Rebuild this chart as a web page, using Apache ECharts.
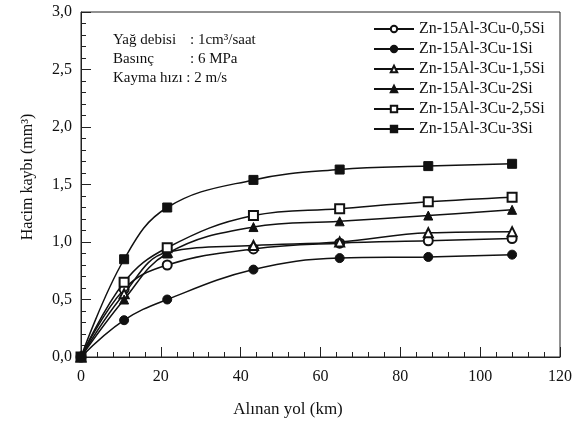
<!DOCTYPE html>
<html>
<head>
<meta charset="utf-8">
<script src="https://cdn.jsdelivr.net/npm/echarts@6/dist/echarts.min.js"></script>
<style>html,body{margin:0;padding:0;background:#fff}#c{width:582px;height:425px}</style>
</head>
<body>
<div id="c"></div>
<script>
var distances = [0, 10.8, 21.6, 43.2, 64.8, 87, 108];
var seriesNames = ['Zn-15Al-3Cu-0,5Si','Zn-15Al-3Cu-1Si','Zn-15Al-3Cu-1,5Si','Zn-15Al-3Cu-2Si','Zn-15Al-3Cu-2,5Si','Zn-15Al-3Cu-3Si'];
var si05 = [0, 0.59, 0.80, 0.94, 0.99, 1.01, 1.03];
var si1  = [0, 0.32, 0.50, 0.76, 0.86, 0.87, 0.89];
var si15 = [0, 0.55, 0.91, 0.97, 1.00, 1.08, 1.09];
var si2  = [0, 0.50, 0.90, 1.13, 1.18, 1.23, 1.28];
var si25 = [0, 0.65, 0.95, 1.23, 1.29, 1.35, 1.39];
var si3  = [0, 0.85, 1.30, 1.54, 1.63, 1.66, 1.68];
var symbols = ['emptyCircle','circle','emptyTriangle','triangle','emptyRect','rect'];
var allValues = [si05, si1, si15, si2, si25, si3];
var annLines = [['Yağ debisi', ': 1cm³/saat'], ['Basınç', ': 6 MPa'], ['Kayma hızı : 2 m/s', '']];

var font = 'Liberation Serif';
var chart = echarts.init(document.getElementById('c'));
var series = allValues.map(function (vals, i) {
  return {
    name: seriesNames[i],
    type: 'line',
    smooth: 0.4,
    data: distances.map(function (d, j) { return [d, vals[j]]; }),
    symbol: symbols[i],
    symbolSize: 9,
    lineStyle: { color: '#111', width: 1.5 },
    itemStyle: { color: '#111', borderColor: '#111', borderWidth: 1 },
    z: 2 + i
  };
});
var graphics = [];
var annY = [40, 59, 78];
for (var k = 0; k < 3; k++) {
  graphics.push({ type: 'text', x: 113, y: annY[k], style: { text: annLines[k][0], font: '15px "' + font + '"', fill: '#111', verticalAlign: 'middle' } });
  if (annLines[k][1]) {
    graphics.push({ type: 'text', x: 190, y: annY[k], style: { text: annLines[k][1], font: '15px "' + font + '"', fill: '#111', verticalAlign: 'middle' } });
  }
}
graphics.push({ type: 'text', x: 288, y: 410, style: { text: 'Alınan yol (km)', font: '17px "' + font + '"', fill: '#111', align: 'center', verticalAlign: 'middle' } });
graphics.push({ type: 'text', x: 28, y: 177, rotation: Math.PI / 2, style: { text: 'Hacim kaybı (mm³)', font: '16px "' + font + '"', fill: '#111', align: 'center', verticalAlign: 'middle' } });

chart.setOption({
  backgroundColor: '#fff',
  animation: false,
  grid: { left: 81, right: 22, top: 12, bottom: 68, show: true, borderColor: '#222', borderWidth: 1 },
  legend: {
    orient: 'vertical', left: 368, top: 16, itemGap: 4, itemWidth: 40, itemHeight: 8,
    textStyle: { fontFamily: font, fontSize: 16, color: '#111' },
    data: seriesNames
  },
  xAxis: {
    type: 'value', min: 0, max: 120, interval: 20,
    axisLine: { lineStyle: { color: '#222' } },
    axisTick: { inside: true, length: 10, lineStyle: { color: '#222' } },
    minorTick: { show: true, splitNumber: 5, length: 5, lineStyle: { color: '#222' } },
    splitLine: { show: false },
    axisLabel: { fontFamily: font, fontSize: 16, color: '#111', margin: 12 }
  },
  yAxis: {
    type: 'value', min: 0, max: 3, interval: 0.5,
    axisLine: { lineStyle: { color: '#222' } },
    axisTick: { inside: true, length: 10, lineStyle: { color: '#222' } },
    minorTick: { show: true, splitNumber: 5, length: 5, lineStyle: { color: '#222' } },
    splitLine: { show: false },
    axisLabel: { fontFamily: font, fontSize: 16, color: '#111', margin: 9, formatter: function (v) { return v.toFixed(1).replace('.', ','); } }
  },
  graphic: graphics,
  series: series
});
</script>
</body>
</html>
